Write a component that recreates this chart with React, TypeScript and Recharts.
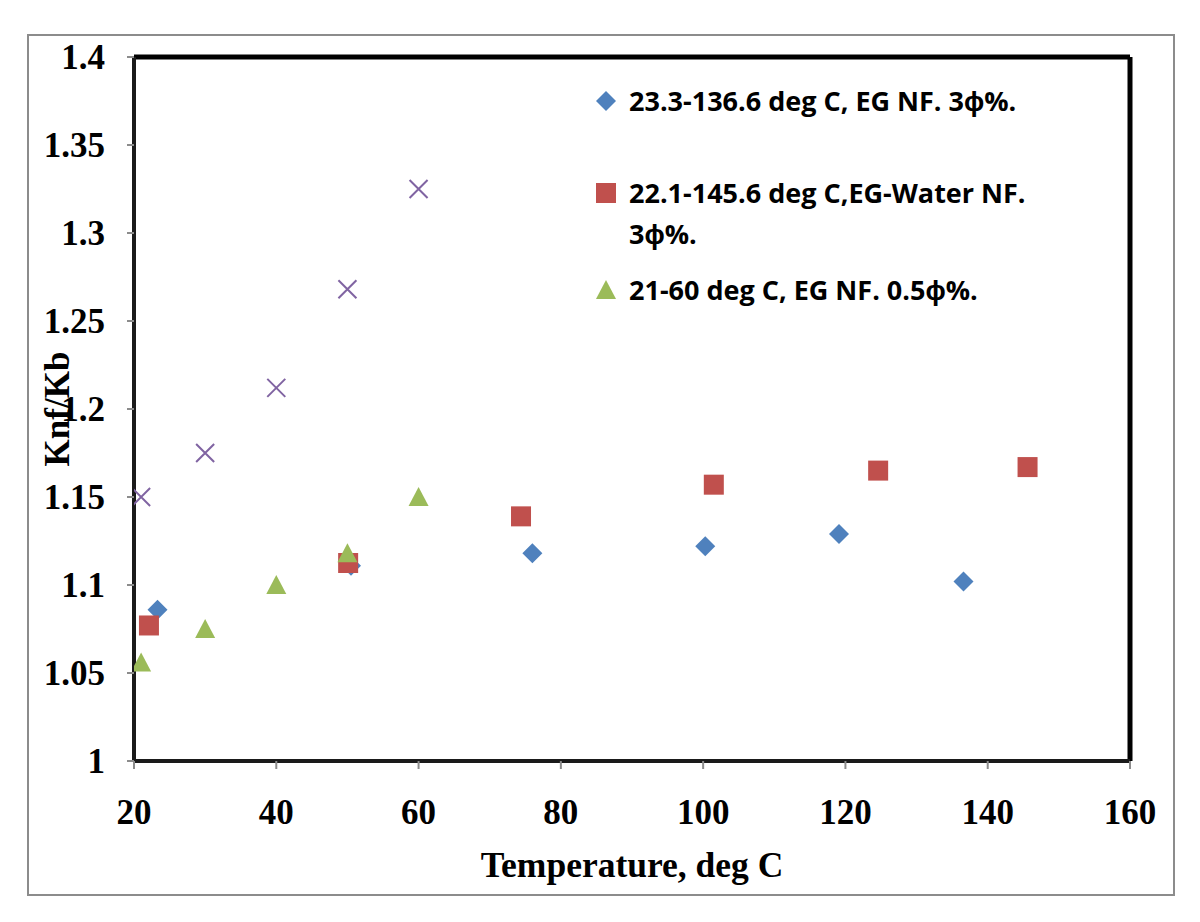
import type { ReactNode } from "react";
import {
  Label,
  ReferenceLine,
  Scatter,
  ScatterChart,
  XAxis,
  YAxis,
} from "recharts";

// Temperature (deg C) and Knf/Kb
const egHighX = [23.3, 50.5, 76, 100.3, 119.1, 136.6];
const egHighY = [1.086, 1.111, 1.118, 1.122, 1.129, 1.102];

const egWaterX = [22.1, 50.1, 74.4, 101.5, 124.6, 145.6];
const egWaterY = [1.077, 1.1125, 1.139, 1.157, 1.165, 1.167];

const egLowX = [21, 30, 40, 50, 60];
const egLowY = [1.056, 1.075, 1.1, 1.118, 1.15];

const extraX = [21, 30, 40, 50, 60];
const extraY = [1.15, 1.175, 1.212, 1.268, 1.325];

const xTicks = [20, 40, 60, 80, 100, 120, 140, 160];
const yTicks = [1, 1.05, 1.1, 1.15, 1.2, 1.25, 1.3, 1.35, 1.4];

const seriesNames = [
  "23.3-136.6 deg C, EG NF. 3ϕ%.",
  "22.1-145.6 deg C,EG-Water NF. 3ϕ%.",
  "21-60 deg C, EG NF. 0.5ϕ%.",
];

const toPoints = (xs: number[], ys: number[]) =>
  xs.map((x, i) => ({ x, y: ys[i] }));

const BLUE = "#4F81BD";
const RED = "#C0504D";
const GREEN = "#9BBB59";
const PURPLE = "#8064A2";

const tickFont = {
  fontFamily: "'Liberation Serif', 'Times New Roman', serif",
  fontWeight: 700,
  fontSize: 35,
  fill: "#000",
};

type ShapeProps = { cx?: number; cy?: number };

function Diamond({ cx = 0, cy = 0 }: ShapeProps) {
  const r = 10;
  return (
    <path
      d={`M${cx},${cy - r}L${cx + r},${cy}L${cx},${cy + r}L${cx - r},${cy}Z`}
      fill={BLUE}
    />
  );
}

function Square({ cx = 0, cy = 0 }: ShapeProps) {
  return <rect x={cx - 10} y={cy - 10} width={20} height={20} fill={RED} />;
}

function Triangle({ cx = 0, cy = 0 }: ShapeProps) {
  return (
    <path
      d={`M${cx},${cy - 10}L${cx + 10},${cy + 9}L${cx - 10},${cy + 9}Z`}
      fill={GREEN}
    />
  );
}

function Cross({ cx = 0, cy = 0 }: ShapeProps) {
  const r = 9;
  return (
    <path
      d={`M${cx - r},${cy - r}L${cx + r},${cy + r}M${cx - r},${cy + r}L${cx + r},${cy - r}`}
      stroke={PURPLE}
      strokeWidth={2}
      fill="none"
    />
  );
}

const legendMarkers: ReactNode[] = [
  <Diamond cx={11} cy={11} />,
  <Square cx={11} cy={11} />,
  <Triangle cx={11} cy={11} />,
];

const legendGaps = [51, 15, 0];

function LegendBox() {
  return (
    <div
      style={{
        position: "absolute",
        left: 595,
        top: 80,
        fontFamily: "'Open Sans', sans-serif",
        fontWeight: 700,
        fontSize: 27,
        lineHeight: "41px",
        color: "#000",
      }}
    >
      {seriesNames.map((name, i) => (
        <div
          key={name}
          style={{ display: "flex", alignItems: "flex-start", marginBottom: legendGaps[i] }}
        >
          <div style={{ width: 34, height: 41, display: "flex", alignItems: "center" }}>
            <svg width={22} height={22}>
              {legendMarkers[i]}
            </svg>
          </div>
          <div style={{ width: 410 }}>{name}</div>
        </div>
      ))}
    </div>
  );
}

export default function App() {
  return (
    <div
      style={{
        position: "absolute",
        left: 0,
        top: 0,
        width: 1200,
        height: 922,
        background: "#fff",
      }}
    >
      <div
        style={{
          position: "absolute",
          left: 27,
          top: 34,
          width: 1144,
          height: 858,
          border: "2px solid #8c8c8c",
        }}
      />
      <ScatterChart
        width={1200}
        height={922}
        margin={{ top: 57, right: 70, bottom: 0, left: 0 }}
        style={{ position: "absolute", left: 0, top: 0 }}
      >
        <XAxis
          type="number"
          dataKey="x"
          domain={[20, 160]}
          ticks={xTicks}
          height={161}
          tickSize={8}
          tickMargin={30}
          tick={tickFont}
          tickLine={{ stroke: "#8c8c8c", strokeWidth: 2 }}
          axisLine={{ stroke: "#1a1a1a", strokeWidth: 4 }}
          allowDataOverflow
        >
          <Label
            value="Temperature, deg C"
            position="insideBottom"
            offset={45}
            style={{ ...tickFont, fontSize: 35.5 }}
          />
        </XAxis>
        <YAxis
          type="number"
          dataKey="y"
          domain={[1, 1.4]}
          ticks={yTicks}
          width={134}
          tickSize={7}
          tickMargin={22}
          tick={tickFont}
          tickLine={{ stroke: "#8c8c8c", strokeWidth: 2 }}
          axisLine={{ stroke: "#1a1a1a", strokeWidth: 4 }}
          allowDataOverflow
        >
          <Label
            value="Knf/Kb"
            angle={-90}
            position="insideLeft"
            offset={57}
            style={{ ...tickFont, fontSize: 35, textAnchor: "middle" }}
          />
        </YAxis>
        <ReferenceLine y={1.4} stroke="#000" strokeWidth={5} ifOverflow="visible" />
        <ReferenceLine x={160} stroke="#000" strokeWidth={5} ifOverflow="visible" />
        <Scatter
          name={seriesNames[0]}
          data={toPoints(egHighX, egHighY)}
          fill={BLUE}
          shape={(p: any) => <Diamond cx={p.cx} cy={p.cy} />}
          isAnimationActive={false}
        />
        <Scatter
          name={seriesNames[1]}
          data={toPoints(egWaterX, egWaterY)}
          fill={RED}
          shape={(p: any) => <Square cx={p.cx} cy={p.cy} />}
          isAnimationActive={false}
        />
        <Scatter
          name={seriesNames[2]}
          data={toPoints(egLowX, egLowY)}
          fill={GREEN}
          shape={(p: any) => <Triangle cx={p.cx} cy={p.cy} />}
          isAnimationActive={false}
        />
        <Scatter
          name="extra"
          legendType="none"
          data={toPoints(extraX, extraY)}
          fill={PURPLE}
          shape={(p: any) => <Cross cx={p.cx} cy={p.cy} />}
          isAnimationActive={false}
        />
      </ScatterChart>
      <LegendBox />
    </div>
  );
}
